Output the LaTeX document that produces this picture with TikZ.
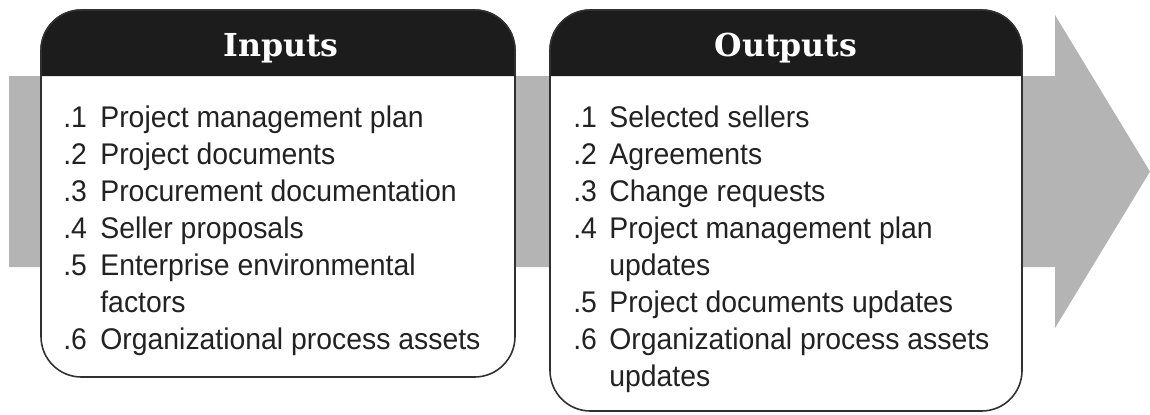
\documentclass[tikz,border=0pt]{standalone}
\usepackage{fontspec}
\newfontfamily\itemfont{Liberation Sans}[FakeStretch=0.95]
\newfontfamily\headfont{DejaVu Serif}
\definecolor{bandgray}{HTML}{B4B4B4}
\definecolor{headblack}{HTML}{1C1C1C}
\definecolor{edgegray}{HTML}{303030}
\definecolor{inkgray}{HTML}{222222}
\tikzset{
  boxedge/.style={draw=edgegray, line width=0.9pt, fill=white},
  headtext/.style={font=\headfont\bfseries\fontsize{18}{20}\selectfont, text=white, inner sep=0pt},
  itemtext/.style={font=\itemfont\fontsize{17}{21}\selectfont, text=inkgray, anchor=base west, inner sep=0pt},
}
\begin{document}
\begin{tikzpicture}[x=0.02cm, y=-0.02cm]
\useasboundingbox (0,0) rectangle (1150,414);
% grey band with arrow head behind the two boxes
\fill[bandgray] (9,76) -- (1055,76) -- (1055,15) -- (1150,171.5) -- (1055,328) -- (1055,267) -- (9,267) -- cycle;

% inputs box
\draw[boxedge, rounded corners=23] (41,10) rectangle (515,377);
\fill[headblack] (41,76) [rounded corners=23]-- (41,10) -- (515,10) [sharp corners]-- (515,76) -- cycle;
\draw[edgegray, line width=0.9pt, rounded corners=23] (41,76) -- (41,10) -- (515,10) -- (515,76);
\node[headtext, anchor=base] (intitle) at (281,56) {Inputs};

\node[itemtext] (in1n) at (63,127) {.1};
\node[itemtext] (in1) at (100,127) {Project management plan};
\node[itemtext] (in2n) at (63,164) {.2};
\node[itemtext] (in2) at (100,164) {Project documents};
\node[itemtext] (in3n) at (63,201) {.3};
\node[itemtext] (in3) at (100,201) {Procurement documentation};
\node[itemtext] (in4n) at (63,238) {.4};
\node[itemtext] (in4) at (100,238) {Seller proposals};
\node[itemtext] (in5n) at (63,275) {.5};
\node[itemtext] (in5) at (100,275) {Enterprise environmental};
\node[itemtext] (in5b) at (100,312) {factors};
\node[itemtext] (in6n) at (63,349) {.6};
\node[itemtext] (in6) at (100,349) {Organizational process assets};

% outputs box
\draw[boxedge, rounded corners=23] (550,10) rectangle (1022,411);
\fill[headblack] (550,76) [rounded corners=23]-- (550,10) -- (1022,10) [sharp corners]-- (1022,76) -- cycle;
\draw[edgegray, line width=0.9pt, rounded corners=23] (550,76) -- (550,10) -- (1022,10) -- (1022,76);
\node[headtext, anchor=base] (outtitle) at (786,56) {Outputs};

\node[itemtext] (out1n) at (573,127) {.1};
\node[itemtext] (out1) at (609,127) {Selected sellers};
\node[itemtext] (out2n) at (573,164) {.2};
\node[itemtext] (out2) at (609,164) {Agreements};
\node[itemtext] (out3n) at (573,201) {.3};
\node[itemtext] (out3) at (609,201) {Change requests};
\node[itemtext] (out4n) at (573,238) {.4};
\node[itemtext] (out4) at (609,238) {Project management plan};
\node[itemtext] (out4b) at (609,275) {updates};
\node[itemtext] (out5n) at (573,312) {.5};
\node[itemtext] (out5) at (609,312) {Project documents updates};
\node[itemtext] (out6n) at (573,349) {.6};
\node[itemtext] (out6) at (609,349) {Organizational process assets};
\node[itemtext] (out6b) at (609,386) {updates};
\end{tikzpicture}
\end{document}
